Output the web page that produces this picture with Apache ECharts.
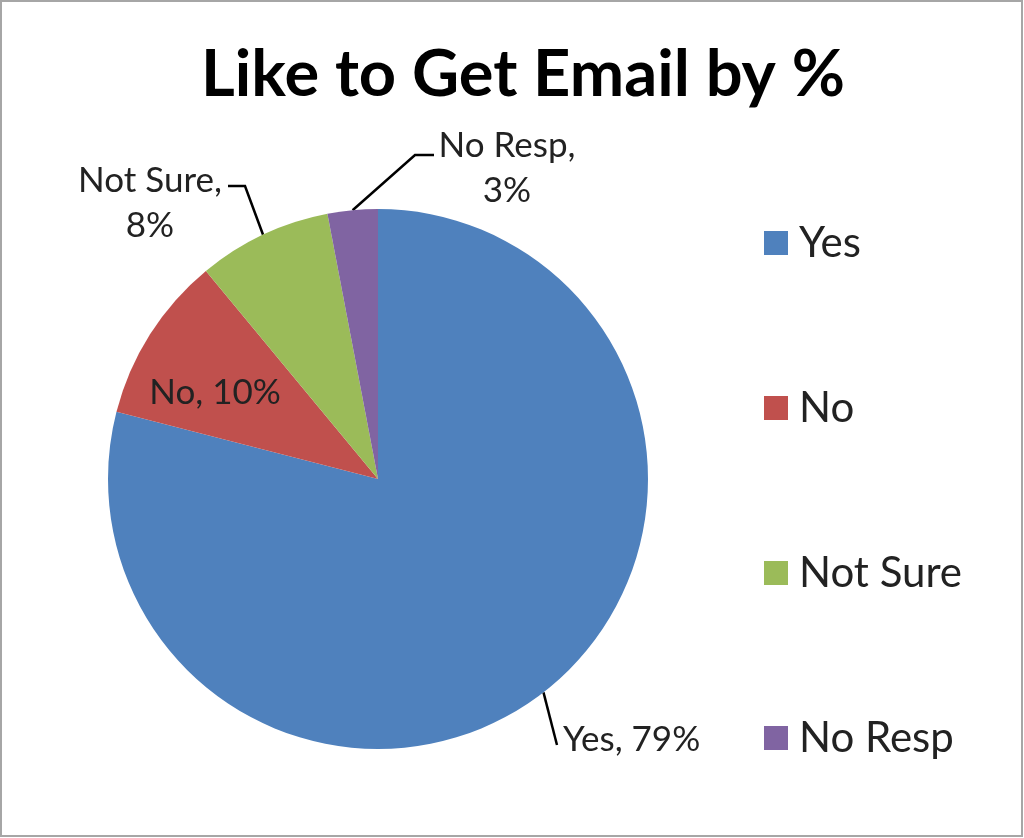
<!DOCTYPE html>
<html><head><meta charset="utf-8">
<script src="https://cdn.jsdelivr.net/npm/echarts@6/dist/echarts.min.js"></script>
<style>html,body{margin:0;padding:0;background:#fff}#c{width:1024px;height:838px;}</style>
</head><body><div id="c"></div>
<script>
const titleText = 'Like to Get Email by %';
const categories = ['Yes', 'No', 'Not Sure', 'No Resp'];
const values = [79, 10, 8, 3];
const colors = ['#4F81BD', '#C0504D', '#9BBB59', '#8064A2'];

// label placement (layout only)
const labelSpots = [
  {x: 563, y: 740, align: 'left', line: [[557, 745]]},
  {x: 215, y: 393, align: 'center', line: null},
  {x: 150, y: 203, align: 'center', line: [[245, 186], [228, 186]]},
  {x: 507, y: 168, align: 'center', line: [[415, 155], [434, 155]]}
];
const twoLine = [false, false, true, true];

const FONT = 'Lato, "Open Sans", sans-serif';
const chart = echarts.init(document.getElementById('c'), null, {renderer: 'canvas'});
const data = categories.map((name, i) => ({
  name: name,
  value: values[i],
  itemStyle: {color: colors[i]},
  label: {formatter: twoLine[i] ? '{b},\n{c}%' : '{b}, {c}%'},
  labelLine: {show: labelSpots[i].line !== null}
}));

chart.setOption({
  animation: false,
  backgroundColor: '#fff',
  graphic: [{
    type: 'rect', silent: true,
    shape: {x: 1, y: 1, width: 1021, height: 835},
    style: {fill: 'none', stroke: '#a6a6a6', lineWidth: 2}
  }],
  title: {
    text: titleText, left: 518, textAlign: 'center', top: 38,
    textStyle: {fontFamily: FONT, fontWeight: 'bold', fontSize: 65, color: '#000'}
  },
  legend: {
    orient: 'vertical', left: 759, top: 217,
    icon: 'rect', itemWidth: 24, itemHeight: 24, itemGap: 123,
    data: categories,
    textStyle: {fontFamily: FONT, fontSize: 42, color: '#222', padding: [0, 0, 0, 6]}
  },
  series: [{
    type: 'pie',
    center: [378, 479],
    radius: 270,
    startAngle: 90,
    clockwise: true,
    data: data,
    label: {
      show: true, position: 'outside', overflow: 'none',
      fontFamily: FONT, fontSize: 35, color: '#222', lineHeight: 45
    },
    labelLine: {show: true, lineStyle: {color: '#000', width: 2.5}},
    labelLayout: function (params) {
      const s = labelSpots[params.dataIndex];
      const out = {x: s.x, y: s.y, align: s.align, verticalAlign: 'middle', width: 300};
      if (s.line && params.labelLinePoints) {
        const a = params.labelLinePoints[0];
        const pts = [a].concat(s.line);
        if (pts.length < 3) pts.push(s.line[s.line.length - 1]);
        out.labelLinePoints = pts;
      }
      return out;
    }
  }]
});
</script></body></html>
